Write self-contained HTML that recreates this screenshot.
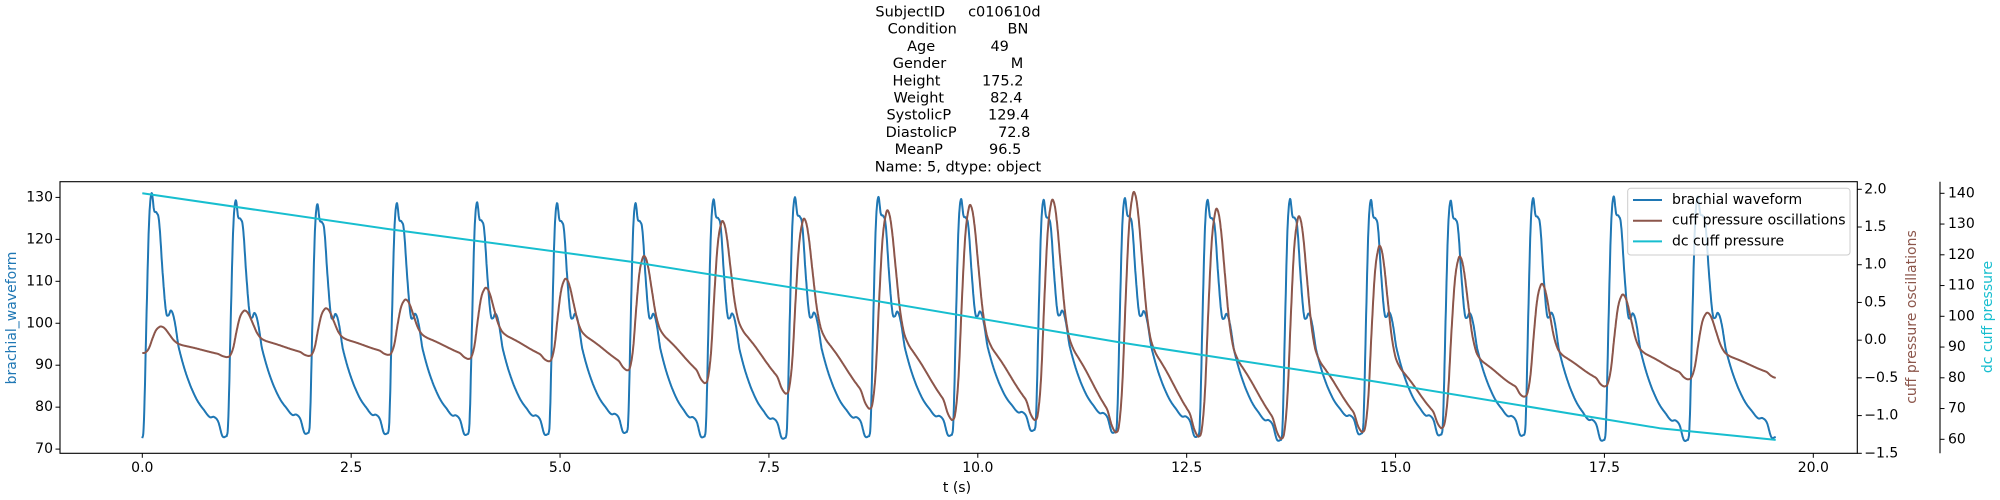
<!DOCTYPE html>
<html><head><meta charset="utf-8"><style>
html,body{margin:0;padding:0;background:#fff;}
svg{display:block;font-family:"DejaVu Sans","Liberation Sans",sans-serif;}
</style></head><body>
<svg id="chart" width="2000" height="500" viewBox="0 0 2000 500" xmlns="http://www.w3.org/2000/svg">
<g id="title" font-size="14.5" fill="#000" text-anchor="middle"></g>
<g id="plot"></g>
<g id="axes"></g>
</svg>
<script>
const titleLines = ["SubjectID     c010610d","Condition           BN","Age            49","Gender              M","Height         175.2","Weight          82.4","SystolicP        129.4","DiastolicP         72.8","MeanP          96.5","Name: 5, dtype: object"];
const beatOnsets = [0,1.01,1.99,2.94,3.90,4.86,5.80,6.73,7.70,8.70,9.69,10.68,11.65,12.64,13.63,14.60,15.55,16.54,17.50,18.50];
const tEnd = 19.55;
const brachPeaks = [131.0,129.3,128.4,128.6,128.8,128.6,128.6,129.5,130.0,130.1,129.6,129.4,129.8,129.4,129.6,129.4,129.2,129.8,130.2,130.2];
const brachTroughs = [72.6,73.1,73.9,73.8,73.6,73.6,74.1,73.0,72.7,73.1,73.4,74.6,74.1,73.1,72.2,73.8,73.5,73.4,72.2,72.2];
const brachEnd = 72.9;
const oscPeaks = [0.18,0.39,0.42,0.535,0.69,0.81,1.11,1.57,1.60,1.71,1.78,1.85,1.95,1.73,1.63,1.24,1.10,0.74,0.60,0.36];
const oscTroughs = [-0.17,-0.225,-0.21,-0.195,-0.25,-0.28,-0.40,-0.57,-0.71,-0.91,-1.06,-1.06,-1.225,-1.28,-1.31,-1.22,-1.17,-0.75,-0.615,-0.52];
const oscEnd = -0.50;
const dcTimes = [0,2.94,5.84,8.8,11.7,14.69,18.16,19.55];
const dcValues = [140.0,128.4,117.8,104.9,91.5,79.1,63.6,59.8];
const brachShape = [[0,0],[0.02,0.08],[0.05,0.5],[0.08,0.88],[0.11,1],[0.14,0.93],[0.17,0.92],[0.2,0.88],[0.24,0.68],[0.28,0.52],[0.31,0.5],[0.34,0.52],[0.38,0.48],[0.43,0.37],[0.5,0.28],[0.57,0.21],[0.65,0.15],[0.73,0.11],[0.8,0.08],[0.85,0.08],[0.9,0.06],[0.95,0.0],[1,0]];
const oscShape = [[0,0],[0.04,0.03],[0.08,0.2],[0.12,0.55],[0.16,0.85],[0.2,0.98],[0.23,1.0],[0.27,0.92],[0.32,0.72],[0.37,0.52],[0.42,0.4],[0.48,0.34],[0.55,0.3],[0.62,0.26],[0.7,0.21],[0.78,0.16],[0.85,0.12],[0.9,0.09],[0.95,0.03],[1,0]];
const xTicks = [0,2.5,5,7.5,10,12.5,15,17.5,20];
const xTickLabels = ["0.0","2.5","5.0","7.5","10.0","12.5","15.0","17.5","20.0"];
const leftTicks = [70,80,90,100,110,120,130];
const oscTicks = [-1.5,-1.0,-0.5,0.0,0.5,1.0,1.5,2.0];
const oscTickLabels = ["\u22121.5","\u22121.0","\u22120.5","0.0","0.5","1.0","1.5","2.0"];
const dcTicks = [60,70,80,90,100,110,120,130,140];

const NS="http://www.w3.org/2000/svg";
const L=60,R=1857.3,T=181.7,B=453.3;
const X=t=>142.3+t*83.55;
const YL=v=>453.3-(v-69.0)*4.195;
const YO=v=>189.3+(2.0-v)*75.43;
const YD=v=>439.3-(v-60)*3.075;
function mk(tag,attrs,parent){const e=document.createElementNS(NS,tag);for(const k in attrs)e.setAttribute(k,attrs[k]);parent.appendChild(e);return e;}
function interp(shape,p){
  const n=shape.length;
  for(let i=1;i<n;i++){
    if(p<=shape[i][0]){
      const a=shape[i-1],b=shape[i];
      const f=(p-a[0])/(b[0]-a[0]);
      const p0=(i-2>=0?shape[i-2]:a)[1],p1=a[1],p2=b[1],p3=(i+1<n?shape[i+1]:b)[1];
      return 0.5*(2*p1+(-p0+p2)*f+(2*p0-5*p1+4*p2-p3)*f*f+(-p0+3*p1-3*p2+p3)*f*f*f);
    }
  }
  return shape[n-1][1];
}

const title=document.getElementById('title');
titleLines.forEach((s,i)=>{const t=mk('text',{x:958,y:16.5+i*17.2,'xml:space':'preserve'},title);

t.style.whiteSpace='pre';t.textContent=s;});

function beatSeries(peaks,troughs,endVal,shape){
  const pts=[];
  for(let k=0;k<beatOnsets.length;k++){
    const t0=beatOnsets[k],t1=k+1<beatOnsets.length?beatOnsets[k+1]:tEnd;
    const nextTr=k+1<troughs.length?troughs[k+1]:endVal;
    const n=Math.round((t1-t0)/0.004);
    for(let j=0;j<n;j++){const p=j/n;const t=t0+(t1-t0)*p;
      const base=troughs[k]*(1-p)+nextTr*p;
      pts.push([t,base+(peaks[k]-base)*interp(shape,p)]);}
  }
  pts.push([tEnd,endVal]);return pts;
}
const plot=document.getElementById('plot');
function line(pts,yf,color,name){const d=pts.map((p,i)=>(i?'L':'M')+X(p[0]).toFixed(1)+' '+yf(p[1]).toFixed(1)).join('');
const e=mk('path',{d:d,fill:'none',stroke:color,'stroke-width':2,'stroke-linejoin':'round'},plot);

}
line(beatSeries(brachPeaks,brachTroughs,brachEnd,brachShape),YL,'#1f77b4','brachial-waveform-line');
line(beatSeries(oscPeaks,oscTroughs,oscEnd,oscShape),YO,'#8c564b','cuff-oscillation-line');
line(dcTimes.map((t,i)=>[t,dcValues[i]]),YD,'#17becf','dc-cuff-pressure-line');

const ax=document.getElementById('axes');
const fr=mk('rect',{x:L,y:T,width:R-L,height:B-T,fill:'none',stroke:'#000','stroke-width':1.1},ax);


function txt(x,y,s,anchor,name,extra){const t=mk('text',Object.assign({x:x,y:y,'text-anchor':anchor,'font-size':14,'dominant-baseline':'central'},extra||{}),ax);

t.textContent=s;return t;}
xTicks.forEach((v,i)=>{mk('line',{x1:X(v),x2:X(v),y1:B,y2:B+4.5,stroke:'#000'},ax);txt(X(v),468,xTickLabels[i],'middle','x-tick-label');});
leftTicks.forEach(v=>{mk('line',{x1:L,x2:L-4.5,y1:YL(v),y2:YL(v),stroke:'#000'},ax);txt(L-7,YL(v),String(v),'end','left-y-tick-label');});
oscTicks.forEach((v,i)=>{mk('line',{x1:R,x2:R+4.5,y1:YO(v),y2:YO(v),stroke:'#000'},ax);txt(R+7,YO(v),oscTickLabels[i],'start','osc-y-tick-label');});
mk('line',{x1:1940,x2:1940,y1:T,y2:B,stroke:'#000','stroke-width':1.1},ax);
dcTicks.forEach(v=>{mk('line',{x1:1940,x2:1944.5,y1:YD(v),y2:YD(v),stroke:'#000'},ax);txt(1948,YD(v),String(v),'start','dc-y-tick-label');});
txt(957,488,'t (s)','middle','x-axis-title');
txt(12,318,'brachial_waveform','middle','left-y-axis-title',{transform:'rotate(-90 12 318)',fill:'#1f77b4'});
txt(1912,317,'cuff pressure oscillations','middle','osc-y-axis-title',{transform:'rotate(-90 1912 317)',fill:'#8c564b'});
txt(1988,317,'dc cuff pressure','middle','dc-y-axis-title',{transform:'rotate(-90 1988 317)',fill:'#17becf'});

const lg=mk('g',{},ax);


mk('rect',{x:1627.7,y:188.3,width:222.3,height:66.7,rx:3,fill:'#fff','fill-opacity':0.8,stroke:'#ccc'},lg);
[['brachial waveform','#1f77b4'],['cuff pressure oscillations','#8c564b'],['dc cuff pressure','#17becf']].forEach((e,i)=>{
  const y=200+i*20.7;
  const g=mk('g',{},lg);
  
  
  mk('line',{x1:1633,x2:1662,y1:y,y2:y,stroke:e[1],'stroke-width':2},g);
  const t=mk('text',{x:1672,y:y,'font-size':14,'dominant-baseline':'central'},g);t.textContent=e[0];
});
</script>
</body></html>
